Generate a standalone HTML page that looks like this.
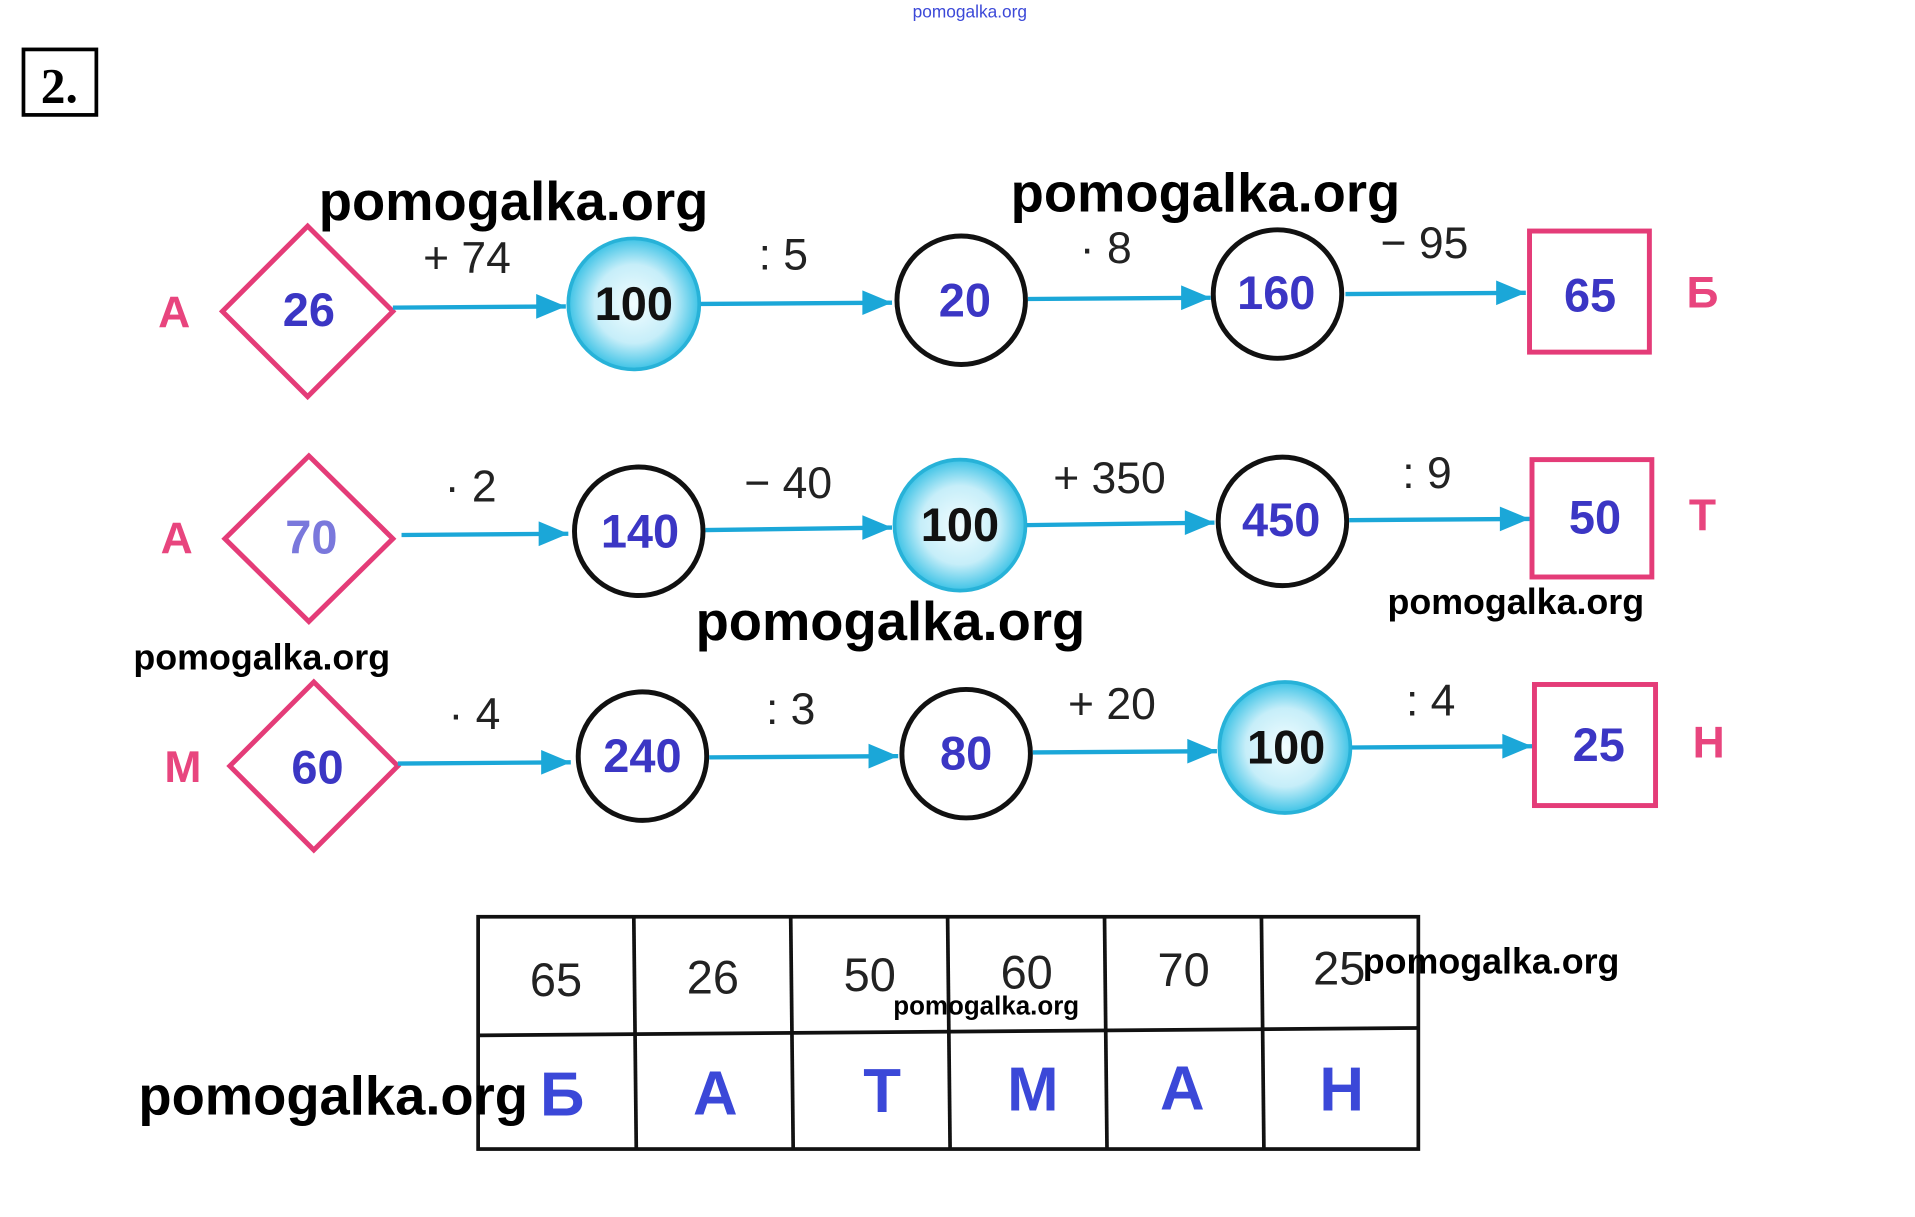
<!DOCTYPE html>
<html><head><meta charset="utf-8"><style>
html,body{margin:0;padding:0;background:#fff;width:1915px;height:1217px;overflow:hidden}
svg{display:block}
text{font-family:"Liberation Sans",sans-serif}
.n{font-weight:bold;fill:#3b36c4;font-size:38px;text-anchor:middle}
.k{font-weight:bold;fill:#111;font-size:38px;text-anchor:middle}
.op{fill:#222;font-size:36px;text-anchor:middle}
.lt{font-weight:bold;fill:#e8457e;font-size:36px;text-anchor:middle}
.wm{font-weight:bold;fill:#000}
.a{stroke:#1ba7d8;stroke-width:3.5;fill:none}
.d{fill:none;stroke:#e43c78;stroke-width:4}
.c{fill:#fff;stroke:#111;stroke-width:4}
.cy{fill:url(#g);stroke:#27b2d8;stroke-width:3}
.tn{fill:#222;font-size:38px;text-anchor:middle}
.tl{font-weight:bold;fill:#3b48d8;font-size:50px;text-anchor:middle}
</style></head><body>
<svg width="1915" height="1217" viewBox="0 0 1550 985" preserveAspectRatio="none">
<defs>
<radialGradient id="g" cx="50%" cy="50%" r="50%"><stop offset="0" stop-color="#f2fdff"/><stop offset="0.6" stop-color="#c6eef9"/><stop offset="1" stop-color="#3ec3e6"/></radialGradient>
<marker id="ar" markerWidth="10" markerHeight="10" refX="9" refY="5" orient="auto" markerUnits="userSpaceOnUse"><path d="M0,0 L22,5 L0,10 z" fill="#1ba7d8" transform="scale(0.45,1)"/></marker>
</defs>
<text x="785" y="14" font-size="14" fill="#3b48d8" text-anchor="middle">pomogalka.org</text>
<rect x="19" y="40" width="59" height="53" fill="none" stroke="#000" stroke-width="3"/>
<text x="48" y="83" font-size="40" font-family="Liberation Serif,serif" font-weight="bold" text-anchor="middle" style="font-family:'Liberation Serif',serif">2.</text>

<!-- row 1 -->
<text class="lt" x="141" y="265">А</text>
<polygon class="d" points="249,183 318,252 249,321 180,252"/>
<text class="n" x="250" y="264">26</text>
<line class="a" x1="318" y1="249" x2="458" y2="248"/><polygon points="434,238 458,248 434,258" fill="#1ba7d8"/>
<text class="op" x="378" y="221">+ 74</text>
<circle class="cy" cx="513" cy="246" r="53"/><text class="k" x="513" y="259">100</text>
<line class="a" x1="567" y1="246" x2="722" y2="245"/><polygon points="698,235 722,245 698,255" fill="#1ba7d8"/>
<text class="op" x="634" y="218">: 5</text>
<circle class="c" cx="778" cy="243" r="52"/><text class="n" x="781" y="256">20</text>
<line class="a" x1="832" y1="242" x2="980" y2="241"/><polygon points="956,231 980,241 956,251" fill="#1ba7d8"/>
<text class="op" x="895" y="213">· 8</text>
<circle class="c" cx="1034" cy="238" r="52"/><text class="n" x="1033" y="250">160</text>
<line class="a" x1="1089" y1="238" x2="1235" y2="237"/><polygon points="1211,227 1235,237 1211,247" fill="#1ba7d8"/>
<text class="op" x="1153" y="209">− 95</text>
<rect class="d" x="1238" y="187" width="97" height="98"/><text class="n" x="1287" y="252">65</text>
<text class="lt" x="1378" y="249">Б</text>

<!-- row 2 -->
<text class="lt" x="143" y="448">А</text>
<polygon class="d" points="250,369 318,436 250,503 182,436"/>
<text class="n" x="252" y="448" fill="#7a78dc" style="fill:#7a78dc">70</text>
<line class="a" x1="325" y1="433" x2="460" y2="432"/><polygon points="436,422 460,432 436,442" fill="#1ba7d8"/>
<text class="op" x="381" y="406">· 2</text>
<circle class="c" cx="517" cy="430" r="52"/><text class="n" x="518" y="443">140</text>
<line class="a" x1="571" y1="429" x2="722" y2="427"/><polygon points="698,417 722,427 698,437" fill="#1ba7d8"/>
<text class="op" x="638" y="403">− 40</text>
<circle class="cy" cx="777" cy="425" r="53"/><text class="k" x="777" y="438">100</text>
<line class="a" x1="831" y1="425" x2="983" y2="423"/><polygon points="959,413 983,423 959,433" fill="#1ba7d8"/>
<text class="op" x="898" y="399">+ 350</text>
<circle class="c" cx="1038" cy="422" r="52"/><text class="n" x="1037" y="434">450</text>
<line class="a" x1="1092" y1="421" x2="1238" y2="420"/><polygon points="1214,410 1238,420 1214,430" fill="#1ba7d8"/>
<text class="op" x="1155" y="395">: 9</text>
<rect class="d" x="1240" y="372" width="97" height="95"/><text class="n" x="1291" y="432">50</text>
<text class="lt" x="1378" y="429">Т</text>

<!-- row 3 -->
<text class="lt" x="148" y="633">М</text>
<polygon class="d" points="254,552 322,620 254,688 186,620"/>
<text class="n" x="257" y="634">60</text>
<line class="a" x1="322" y1="618" x2="462" y2="617"/><polygon points="438,607 462,617 438,627" fill="#1ba7d8"/>
<text class="op" x="384" y="590">· 4</text>
<circle class="c" cx="520" cy="612" r="52"/><text class="n" x="520" y="625">240</text>
<line class="a" x1="574" y1="613" x2="727" y2="612"/><polygon points="703,602 727,612 703,622" fill="#1ba7d8"/>
<text class="op" x="640" y="586">: 3</text>
<circle class="c" cx="782" cy="610" r="52"/><text class="n" x="782" y="623">80</text>
<line class="a" x1="836" y1="609" x2="985" y2="608"/><polygon points="961,598 985,608 961,618" fill="#1ba7d8"/>
<text class="op" x="900" y="582">+ 20</text>
<circle class="cy" cx="1040" cy="605" r="53"/><text class="k" x="1041" y="618">100</text>
<line class="a" x1="1094" y1="605" x2="1240" y2="604"/><polygon points="1216,594 1240,604 1216,614" fill="#1ba7d8"/>
<text class="op" x="1158" y="579">: 4</text>
<rect class="d" x="1242" y="554" width="98" height="98"/><text class="n" x="1294" y="616">25</text>
<text class="lt" x="1383" y="613">Н</text>

<!-- table -->
<g stroke="#111" stroke-width="3" fill="none">
<rect x="387" y="742" width="761" height="188"/>
<line x1="387" y1="838" x2="1148" y2="832"/>
<line x1="513" y1="742" x2="515" y2="930"/><line x1="640" y1="742" x2="642" y2="930"/>
<line x1="767" y1="742" x2="769" y2="930"/><line x1="894" y1="742" x2="896" y2="930"/>
<line x1="1021" y1="742" x2="1023" y2="930"/>
</g>
<text class="tn" x="450" y="806">65</text><text class="tn" x="577" y="804">26</text>
<text class="tn" x="704" y="802">50</text><text class="tn" x="831" y="800">60</text>
<text class="tn" x="958" y="798">70</text><text class="tn" x="1084" y="797">25</text>
<text class="tl" x="455" y="903">Б</text><text class="tl" x="579" y="902">А</text>
<text class="tl" x="714" y="900">Т</text><text class="tl" x="836" y="899">М</text>
<text class="tl" x="957" y="898">А</text><text class="tl" x="1086" y="899">Н</text>

<!-- watermarks -->
<text class="wm" x="258" y="178" font-size="44">pomogalka.org</text>
<text class="wm" x="818" y="171" font-size="44">pomogalka.org</text>
<text class="wm" x="563" y="518" font-size="44">pomogalka.org</text>
<text class="wm" x="108" y="542" font-size="29">pomogalka.org</text>
<text class="wm" x="1123" y="497" font-size="29">pomogalka.org</text>
<text class="wm" x="112" y="902" font-size="44">pomogalka.org</text>
<text class="wm" x="1103" y="788" font-size="29">pomogalka.org</text>
<text class="wm" x="723" y="821" font-size="21">pomogalka.org</text>
</svg>
</body></html>
